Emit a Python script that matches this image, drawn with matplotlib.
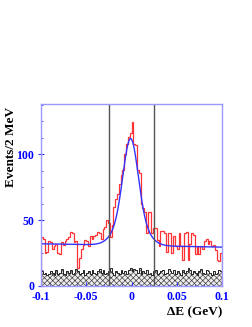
import numpy as np
import matplotlib
matplotlib.use("Agg")
import matplotlib.pyplot as plt

# ---- data ----
bin_edges = np.linspace(-0.1, 0.1, 101)  # 2 MeV bins

signal_counts = [37, 36, 25, 26, 34, 33, 28, 30, 32, 25,
                 24, 33, 31, 34, 36, 37, 41, 40, 33, 34,
                 14, 21, 28, 31, 35, 34, 30, 38, 36, 38,
                 39, 41, 40, 36, 43, 45, 50, 48, 37, 46,
                 60, 66, 70, 77, 84, 88, 100, 108, 113, 116,
                 124, 108, 107, 88, 86, 62, 59, 56, 40, 56,
                 56, 40, 44, 44, 35, 30, 42, 42, 40, 26,
                 40, 40, 25, 38, 30, 28, 40, 30, 20, 40,
                 41, 20, 32, 40, 39, 24, 30, 24, 30, 28,
                 34, 36, 32, 34, 30, 31, 27, 20, 19, 25]

background_counts = [11, 9, 10, 8, 9, 11, 10, 8, 12, 9,
                     10, 13, 9, 8, 11, 10, 12, 9, 10, 13,
                     11, 9, 10, 12, 8, 10, 11, 9, 12, 10,
                     9, 11, 13, 10, 12, 9, 10, 11, 14, 10,
                     8, 11, 10, 9, 12, 10, 11, 9, 12, 14,
                     11, 13, 12, 10, 14, 9, 11, 10, 12, 9,
                     10, 8, 11, 12, 9, 10, 11, 12, 9, 10,
                     13, 11, 10, 12, 9, 11, 10, 8, 12, 10,
                     11, 14, 12, 9, 11, 10, 8, 11, 13, 10,
                     9, 12, 11, 10, 8, 11, 9, 10, 12, 11]

# fit parameters (double Gaussian + linear background)
fit_mean = -0.001
core_amp, core_sigma = 55.0, 0.008
wide_amp, wide_sigma = 26.0, 0.014
bkg_const, bkg_slope = 30.75, -12.5

signal_window = [-0.025, 0.025]
x_ticks = [-0.1, -0.05, 0, 0.05, 0.1]
x_tick_labels = ["-0.1", "-0.05", "0", "0.05", "0.1"]
y_ticks = [0, 50, 100]

# ---- plot ----
plt.rcParams['font.family'] = ['Liberation Serif', 'DejaVu Serif']
plt.rcParams['hatch.linewidth'] = 0.5

fig = plt.figure(figsize=(2.53, 3.27), dpi=100)
ax = fig.add_axes([41/253, 1-286/327, 181/253, 182/327])

centers = 0.5 * (bin_edges[:-1] + bin_edges[1:])

# background hatched histogram
ax.hist(centers, bins=bin_edges, weights=background_counts, histtype='stepfilled',
        facecolor='#eeeeee', edgecolor='#444444', hatch='xxxxxx', linewidth=0)
ax.hist(centers, bins=bin_edges, weights=background_counts, histtype='step',
        color='#222222', linewidth=0.7)

# data histogram
ax.hist(centers, bins=bin_edges, weights=signal_counts, histtype='step',
        color='#ff3333', linewidth=0.9)

# fit curve
xf = np.linspace(-0.1, 0.1, 800)
yf = (bkg_const + bkg_slope * xf
      + core_amp * np.exp(-0.5 * ((xf - fit_mean) / core_sigma) ** 2)
      + wide_amp * np.exp(-0.5 * ((xf - fit_mean) / wide_sigma) ** 2))
ax.plot(xf, yf, color='#3333ff', linewidth=1.0)

# signal window lines
for xv in signal_window:
    ax.axvline(xv, color='#555555', linewidth=1.0)

ax.set_xlim(-0.1, 0.1)
ax.set_ylim(0, 138)

for sp in ax.spines.values():
    sp.set_color('#9999ff')
    sp.set_linewidth(1.0)

ax.set_xticks(x_ticks)
ax.set_xticklabels(x_tick_labels)
ax.set_yticks(y_ticks)
ax.set_xticks(np.arange(-0.1, 0.1001, 0.01), minor=True)
ax.set_yticks(np.arange(0, 138, 12.5), minor=True)
ax.tick_params(axis='both', which='major', colors='#3333ff', labelcolor='#0000ff',
               labelsize=8.5, direction='in', length=3, width=0.8)
ax.tick_params(axis='y', which='major', direction='inout', length=4, pad=3)
ax.tick_params(axis='x', which='major', pad=3.5)
ax.tick_params(axis='both', which='minor', colors='#3333ff', direction='in',
               length=1.5, width=0.6)
for lab in ax.get_xticklabels() + ax.get_yticklabels():
    lab.set_fontweight('bold')

ax.set_ylabel('Events/2 MeV', fontsize=9.5, fontweight='bold', loc='top')
ax.yaxis.set_label_coords(-0.13, 0.985)
ax.set_xlabel('ΔE (GeV)', fontsize=9.5, fontweight='bold', loc='right')
ax.xaxis.set_label_coords(1.0, -0.11)

fig.savefig('out.png', dpi=100)
